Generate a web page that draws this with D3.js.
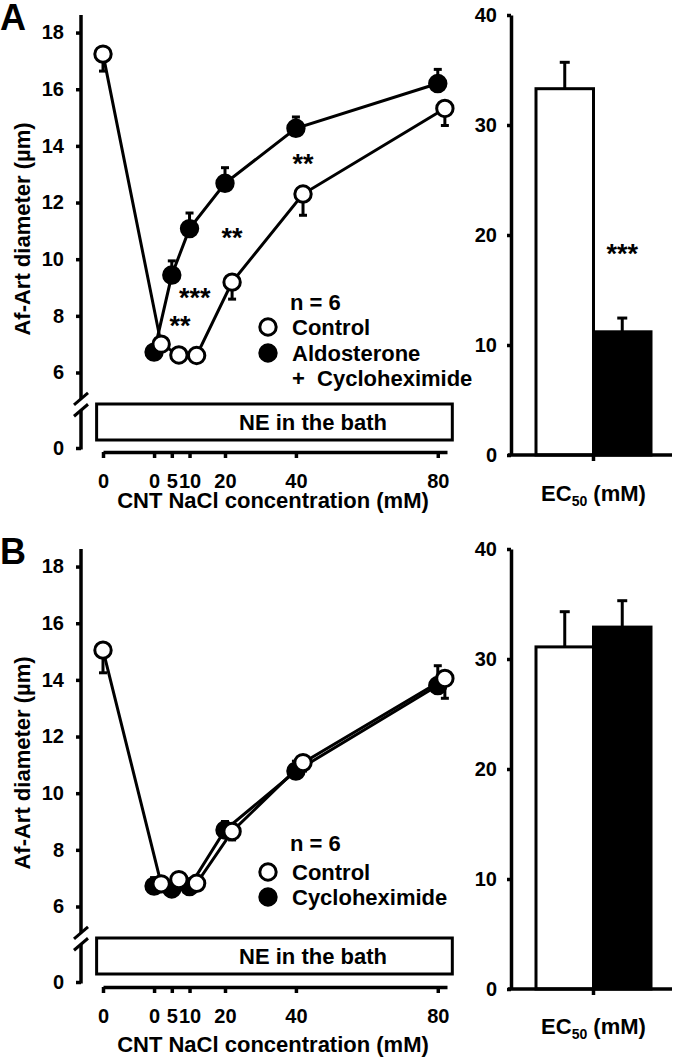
<!DOCTYPE html>
<html><head><meta charset="utf-8">
<script src="https://cdn.jsdelivr.net/npm/d3@7"></script>
<style>
body{margin:0;background:#fff}
text{font-family:"Liberation Sans",Arial,sans-serif;font-weight:bold;fill:#000}
</style>
</head><body>
<svg id="c" width="674" height="1058"></svg>
<script>
// ---- data ----
const xPositions = [-14.4, 0, 5, 10, 20, 40, 80];   // first = baseline (before NE)
const xTickLabels = ["0", "0", "5", "10", "20", "40", "80"];
const yTicks = [0, 6, 8, 10, 12, 14, 16, 18];
const barTicks = [0, 10, 20, 30, 40];
const barGroups = ["Control", "Treated"];

const aControl    = [17.24, 7.0, 6.62, 6.6, 9.19, 12.3, 15.32];
const aControlSem = [0.6, 0.2, 0.15, 0.15, 0.6, 0.75, 0.6];
const aAldo       = [null, 6.72, 9.44, 11.08, 12.68, 14.62, 16.2];
const aAldoSem    = [0, 0.2, 0.5, 0.55, 0.55, 0.4, 0.5];
const aBars       = [33.3, 11.2];
const aBarsSem    = [2.4, 1.25];
const aStars      = [{x: 42, y: 13.57, t: "**"}, {x: 22, y: 10.96, t: "**"}, {x: 11.5, y: 8.84, t: "***"}, {x: 7.3, y: 7.85, t: "**"}];

const bControl    = [15.05, 6.8, 6.95, 6.82, 8.65, 11.08, 14.05];
const bControlSem = [0.8, 0.25, 0.2, 0.2, 0.3, 0.3, 0.7];
const bCyclo      = [null, 6.72, 6.62, 6.7, 8.7, 10.78, 13.8];
const bCycloSem   = [0, 0.3, 0.25, 0.25, 0.3, 0.35, 0.7];
const bBars       = [31.1, 32.9];
const bBarsSem    = [3.2, 2.4];

const svg = d3.select("#c");
const SW = 3.5;
const FONT = "'Liberation Sans',Arial,sans-serif";

function panel(cfg) {
  const g = svg.append("g");
  const x = d3.scaleLinear().domain([-14.4, 82.6]).range([103, 447]);
  const y = d3.scaleLinear().domain([0, 6, 18.62]).range([cfg.y0, cfg.y0 - 75.5, cfg.y0 - 433]);
  const ctrlShift = 2;

  // panel letter
  g.append("text").attr("x", 0).attr("y", cfg.y0 - 418).style("font-size", "36px").text(cfg.letter);

  // y axis
  const ya = g.append("g").attr("transform", "translate(81,0)")
    .call(d3.axisLeft(y).tickValues(yTicks).tickSize(5).tickPadding(12));
  ya.select(".domain").remove();
  ya.selectAll("line").attr("stroke", "#000").attr("stroke-width", SW);
  ya.selectAll("text").style("font-size", "20px").style("font-family", FONT).style("font-weight", "bold");
  const brHi = 3.9, brLo = 3.0;
  g.append("line").attr("x1", 81).attr("x2", 81).attr("y1", y(18.62)).attr("y2", y(brHi)).attr("stroke", "#000").attr("stroke-width", SW);
  g.append("line").attr("x1", 81).attr("x2", 81).attr("y1", y(brLo)).attr("y2", y(0) + 1.5).attr("stroke", "#000").attr("stroke-width", SW);
  [brHi, brLo].forEach(v => {
    g.append("line").attr("x1", 74).attr("x2", 88).attr("y1", y(v) + 6).attr("y2", y(v) - 6).attr("stroke", "#000").attr("stroke-width", 3);
  });

  // x axis
  const xa = g.append("g").attr("transform", `translate(0,${cfg.xAxisY})`)
    .call(d3.axisBottom(x).tickValues(xPositions).tickFormat((d, i) => xTickLabels[i]).tickSize(6).tickPadding(16).tickSizeOuter(0));
  xa.select(".domain").attr("stroke", "#000").attr("stroke-width", SW);
  xa.selectAll("line").attr("stroke", "#000").attr("stroke-width", SW);
  xa.selectAll("text").style("font-size", "20px").style("font-family", FONT).style("font-weight", "bold");
  g.append("text").attr("x", 273).attr("y", cfg.titleY).attr("text-anchor", "middle").style("font-size", "22px")
    .text("CNT NaCl concentration (mM)");

  // y title
  g.append("text").attr("transform", `translate(30,${cfg.y0 - 219}) rotate(-90)`).attr("text-anchor", "middle").style("font-size", "22px")
    .text("Af-Art diameter (µm)");

  // NE box
  g.append("rect").attr("x", x(-16.2)).attr("y", cfg.y0 - 44).attr("width", x(84.1) - x(-16.2)).attr("height", 36)
    .attr("fill", "#fff").attr("stroke", "#000").attr("stroke-width", 3);
  g.append("text").attr("x", 313).attr("y", cfg.y0 - 18).attr("text-anchor", "middle").style("font-size", "22px").text("NE in the bath");

  const px = (i, shift) => x(xPositions[i] + (i > 0 ? shift : 0));
  function series(vals, sem, shift, filled, dir) {
    const line = d3.line().defined(d => d != null).x((d, i) => px(i, shift)).y(d => y(d));
    g.append("path").datum(vals).attr("d", line).attr("fill", "none").attr("stroke", "#000").attr("stroke-width", 3);
    vals.forEach((v, i) => {
      if (v == null) return;
      const e = v + dir * sem[i];
      g.append("line").attr("x1", px(i, shift)).attr("x2", px(i, shift)).attr("y1", y(v)).attr("y2", y(e))
        .attr("stroke", "#000").attr("stroke-width", 3);
      g.append("line").attr("x1", px(i, shift) - 4).attr("x2", px(i, shift) + 4).attr("y1", y(e)).attr("y2", y(e))
        .attr("stroke", "#000").attr("stroke-width", 3);
    });
    g.selectAll(null).data(vals.map((v, i) => ({v, i})).filter(d => d.v != null)).enter().append("circle")
      .attr("cx", d => px(d.i, shift)).attr("cy", d => y(d.v)).attr("r", 8.2)
      .attr("fill", filled ? "#000" : "#fff").attr("stroke", "#000").attr("stroke-width", 3);
  }
  series(cfg.treat, cfg.treatSem, 0, true, 1);
  series(cfg.ctrl, cfg.ctrlSem, ctrlShift, false, -1);

  // stars
  (cfg.stars || []).forEach(s => {
    g.append("text").attr("x", x(s.x)).attr("y", y(s.y) + 15).attr("text-anchor", "middle").style("font-size", "27px").text(s.t);
  });

  // legend
  const lg = cfg.legend;
  g.append("text").attr("x", 290).attr("y", lg.nY + 8).style("font-size", "22px").text("n = 6");
  g.append("circle").attr("cx", 268).attr("cy", lg.c1).attr("r", 8.2).attr("fill", "#fff").attr("stroke", "#000").attr("stroke-width", 3);
  g.append("text").attr("x", 292).attr("y", lg.c1 + 8).style("font-size", "22px").text("Control");
  g.append("circle").attr("cx", 268).attr("cy", lg.c2).attr("r", 8.2).attr("fill", "#000").attr("stroke", "#000").attr("stroke-width", 3);
  lg.labels.forEach((t, k) => {
    g.append("text").attr("x", 292).attr("y", lg.c2 + 8 + k * 25).style("font-size", "22px").attr("xml:space", "preserve").text(t);
  });

  // bar chart
  const yb = d3.scaleLinear().domain([0, 40]).range([cfg.by0, cfg.by40]);
  const xb = d3.scaleBand().domain(barGroups).range([536, 651]);
  const yba = g.append("g").attr("transform", "translate(511,0)")
    .call(d3.axisLeft(yb).tickValues(barTicks).tickSize(4).tickPadding(10).tickSizeOuter(0));
  yba.select(".domain").attr("stroke", "#000").attr("stroke-width", SW);
  yba.selectAll("line").attr("stroke", "#000").attr("stroke-width", SW);
  yba.selectAll("text").style("font-size", "20px").style("font-family", FONT).style("font-weight", "bold");
  cfg.bars.forEach((v, i) => {
    const cx = xb(barGroups[i]) + xb.bandwidth() / 2;
    const e = v + cfg.barsSem[i];
    g.append("line").attr("x1", cx).attr("x2", cx).attr("y1", yb(v)).attr("y2", yb(e)).attr("stroke", "#000").attr("stroke-width", 3);
    g.append("line").attr("x1", cx - 5).attr("x2", cx + 5).attr("y1", yb(e)).attr("y2", yb(e)).attr("stroke", "#000").attr("stroke-width", 3);
  });
  g.selectAll(null).data(cfg.bars).enter().append("rect")
    .attr("x", (d, i) => xb(barGroups[i])).attr("width", xb.bandwidth())
    .attr("y", d => yb(d)).attr("height", d => yb(0) - yb(d))
    .attr("fill", (d, i) => i === 0 ? "#fff" : "#000").attr("stroke", "#000").attr("stroke-width", 3);
  const r0 = xb.range();
  g.append("line").attr("x1", r0[0] - 28).attr("x2", r0[1] + 21).attr("y1", yb(0)).attr("y2", yb(0)).attr("stroke", "#000").attr("stroke-width", SW);
  const mid = (r0[0] + r0[1]) / 2;
  g.append("line").attr("x1", mid).attr("x2", mid).attr("y1", yb(0)).attr("y2", yb(0) + 6).attr("stroke", "#000").attr("stroke-width", SW);
  if (cfg.barStar) {
    g.append("text").attr("x", xb(barGroups[1]) + xb.bandwidth() / 2).attr("y", yb(cfg.barStar) + 15).attr("text-anchor", "middle").style("font-size", "27px").text("***");
  }
  const ec = g.append("text").attr("x", mid).attr("y", cfg.ecY).attr("text-anchor", "middle").style("font-size", "22px");
  ec.append("tspan").text("EC");
  ec.append("tspan").attr("dy", 5).style("font-size", "14px").text("50");
  ec.append("tspan").attr("dy", -5).text(" (mM)");
}

panel({letter: "A", y0: 448, xAxisY: 452, titleY: 508, ctrl: aControl, ctrlSem: aControlSem, treat: aAldo, treatSem: aAldoSem,
  stars: aStars, legend: {nY: 302, c1: 327, c2: 353, labels: ["Aldosterone", "+  Cycloheximide"]},
  bars: aBars, barsSem: aBarsSem, by0: 455, by40: 15, barStar: 18.8, ecY: 501});
panel({letter: "B", y0: 982, xAxisY: 987, titleY: 1052, ctrl: bControl, ctrlSem: bControlSem, treat: bCyclo, treatSem: bCycloSem,
  stars: [], legend: {nY: 843, c1: 872, c2: 897, labels: ["Cycloheximide"]},
  bars: bBars, barsSem: bBarsSem, by0: 989, by40: 549, barStar: null, ecY: 1034});
</script>
</body></html>
